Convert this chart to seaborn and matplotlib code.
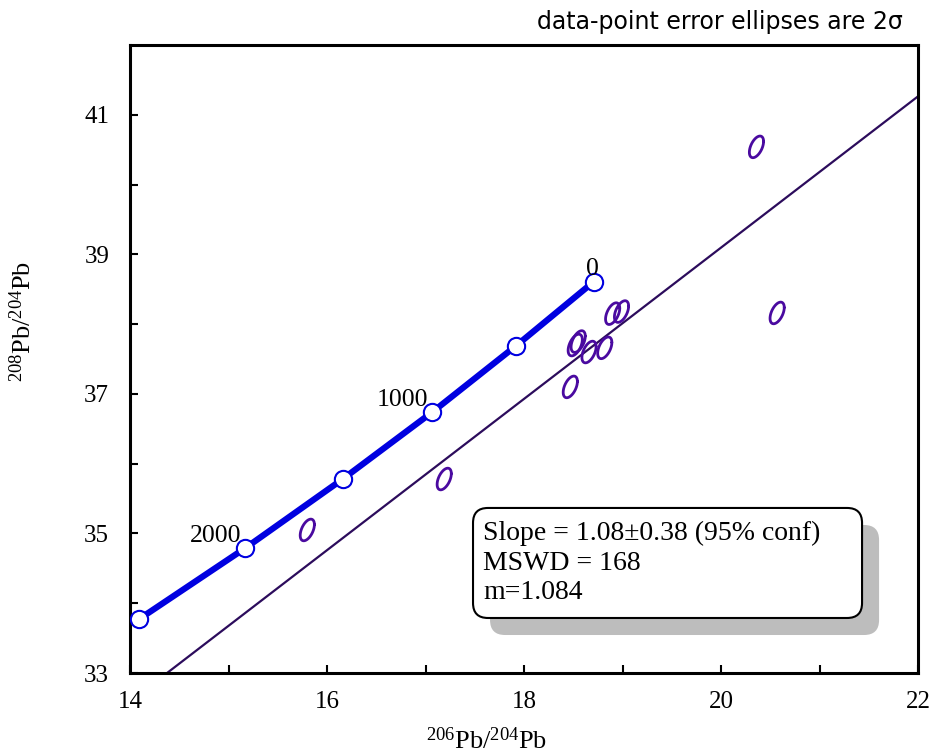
import numpy as np
import matplotlib
matplotlib.use("Agg")
import matplotlib.pyplot as plt
from matplotlib.patches import FancyBboxPatch
import seaborn as sns

# === Stacey-Kramers growth curve (ages in Ma) ===
sk_age = [2500, 2000, 1500, 1000, 500, 0]
sk_206 = [14.09, 15.17, 16.16, 17.07, 17.92, 18.71]
sk_208 = [33.77, 34.79, 35.78, 36.74, 37.69, 38.61]

# === Data points (206Pb/204Pb, 208Pb/204Pb) with 2-sigma errors ===
pb206 = [20.36, 20.57, 15.80, 17.19, 18.47, 18.52, 18.55, 18.66, 18.82, 18.90, 18.99]
pb208 = [40.54, 38.16, 35.05, 35.78, 37.10, 37.70, 37.75, 37.60, 37.66, 38.15, 38.18]
err206 = [0.072] * len(pb206)
err208 = [0.155] * len(pb208)
rho = 0.5

# === Regression ===
slope = 1.084
intercept = 17.416
slope_err = 0.38
mswd = 168

blue = "#0000e0"
purple = "#4a0aa0"
line_col = "#2c0c5c"

sns.set_theme(style="white")
plt.rcParams["font.family"] = ["Liberation Serif", "DejaVu Sans"]
plt.rcParams["mathtext.fontset"] = "custom"
plt.rcParams["mathtext.rm"] = "Liberation Serif"
plt.rcParams["mathtext.it"] = "Liberation Serif:italic"
plt.rcParams["text.color"] = "black"
plt.rcParams["axes.labelcolor"] = "black"

fig = plt.figure(figsize=(9.36, 7.56), dpi=100)
ax = fig.add_axes([130 / 936, 83 / 756, 788 / 936, 628 / 756])

# regression line
ax.axline((0, intercept), slope=slope, color=line_col, lw=1.6, zorder=2)

# error ellipses
t = np.linspace(0, 2 * np.pi, 120)
for cx, cy, ex, ey in zip(pb206, pb208, err206, err208):
    xs = cx + ex * np.cos(t)
    ys = cy + ey * (rho * np.cos(t) + np.sqrt(1 - rho ** 2) * np.sin(t))
    ax.plot(xs, ys, color=purple, lw=2.0, zorder=3)

# growth curve
sns.lineplot(x=sk_206, y=sk_208, sort=False, color=blue, lw=4.5, ax=ax, zorder=4)
sns.scatterplot(x=sk_206, y=sk_208, marker="o", s=155, color="white",
                edgecolor=blue, linewidth=1.5, ax=ax, zorder=5)
for age, x, y in zip(sk_age, sk_206, sk_208):
    if age % 1000 == 0:
        if age == 0:
            ax.annotate(str(age), (x, y), xytext=(-1, 9), textcoords="offset points",
                        ha="center", va="center", fontsize=18.5, zorder=6)
        else:
            ax.annotate(str(age), (x, y), xytext=(-3, 9), textcoords="offset points",
                        ha="right", va="center", fontsize=18.5, zorder=6)

# ============ Axes ============
ax.set_xlim(14, 22)
ax.set_ylim(33, 42)
ax.set_xticks(np.arange(14, 23, 2))
ax.set_xticks(np.arange(15, 22, 2), minor=True)
ax.set_yticks(np.arange(33, 42, 2))
ax.set_yticks(np.arange(34, 42, 2), minor=True)
ax.tick_params(which="both", direction="in", length=6, width=1.5, colors="black",
               top=False, right=False, bottom=True, left=True, labelsize=18)
ax.tick_params(axis="x", pad=13)
ax.tick_params(axis="y", pad=15)
for sp in ax.spines.values():
    sp.set_color("black")
    sp.set_linewidth(2.2)

ax.set_xlabel(r"$^{206}$Pb/$^{204}$Pb", fontsize=19)
ax.xaxis.set_label_coords(0.452, -0.087)
ax.set_ylabel(r"$^{208}$Pb/$^{204}$Pb", fontsize=19)
ax.yaxis.set_label_coords(-0.12, 0.56)

# ============ Result box ============
x0, y0, w, h = 0.4353, 0.0876, 0.4937, 0.1752
dx, dy = 0.0216, 0.0271
box_txt = f"Slope = {slope:.2f}±{slope_err:.2f} (95% conf)\nMSWD = {mswd}\nm={slope:.3f}"
shadow = FancyBboxPatch((x0 + dx, y0 - dy), w, h, boxstyle="round,pad=0,rounding_size=0.019",
                        mutation_aspect=1.255, transform=ax.transAxes,
                        fc="#bdbdbd", ec="none", zorder=6)
ax.add_patch(shadow)
box = FancyBboxPatch((x0, y0), w, h, boxstyle="round,pad=0,rounding_size=0.019",
                     mutation_aspect=1.255, transform=ax.transAxes,
                     fc="white", ec="black", lw=1.5, zorder=7)
ax.add_patch(box)
ax.text(0.448, 0.175, box_txt, transform=ax.transAxes, fontsize=20,
        linespacing=1.25, ha="left", va="center", color="black", zorder=8)

fig.text(903 / 936, 1 - 22 / 756, "data-point error ellipses are 2σ",
         ha="right", va="center", fontsize=17, family="DejaVu Sans", color="black")

fig.savefig("out.png", dpi=100)
